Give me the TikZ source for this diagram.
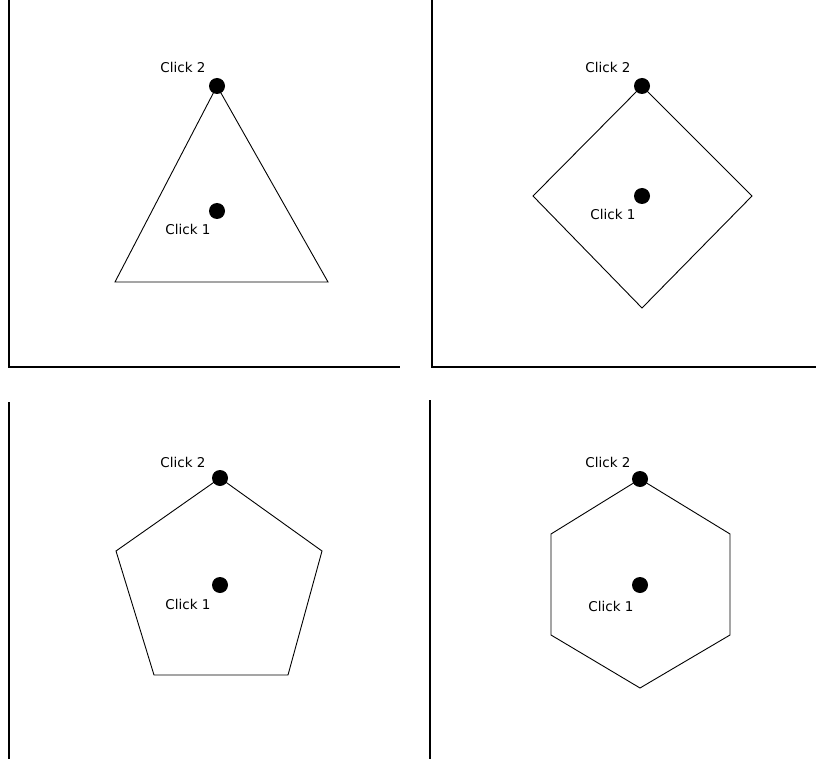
\documentclass[tikz,border=0pt]{standalone}
\usepackage{fontspec}
\setmainfont{DejaVu Sans}
\begin{document}
\begin{tikzpicture}[x=1pt,y=-1pt,
  axis/.style={line width=2.6pt},
  polyline/.style={line width=0.9pt},
  dot/.style={circle,fill=black,inner sep=0pt,minimum size=16pt},
  lbl/.style={font=\fontsize{13.5}{15}\selectfont,inner sep=0pt}]
\useasboundingbox (0,0) rectangle (816,759);
% panel 1
\coordinate (a1) at (9,0); \coordinate (a2) at (9,367); \coordinate (a3) at (400,367);
\draw[axis] (a1) -- (a2) -- (a3);
\coordinate (t1) at (217,86); \coordinate (t2) at (328,282); \coordinate (t3) at (115,282);
\draw[polyline] (t1) -- (t2) -- (t3) -- cycle;
\node[dot] (c2a) at (t1) {};
\node[dot] (c1a) at (217,211) {};
\node[lbl] (l2a) at (183,67) {Click 2};
\node[lbl] (l1a) at (188,229) {Click 1};
% panel 2
\coordinate (b1) at (432,0); \coordinate (b2) at (432,367); \coordinate (b3) at (816,367);
\draw[axis] (b1) -- (b2) -- (b3);
\coordinate (d1) at (642,86); \coordinate (d2) at (752,196); \coordinate (d3) at (642,308); \coordinate (d4) at (533,196);
\draw[polyline] (d1) -- (d2) -- (d3) -- (d4) -- cycle;
\node[dot] (c2b) at (d1) {};
\node[dot] (c1b) at (642,196) {};
\node[lbl] (l2b) at (608,67) {Click 2};
\node[lbl] (l1b) at (613,214) {Click 1};
% panel 3
\coordinate (e1) at (9,402); \coordinate (e2) at (9,759);
\draw[axis] (e1) -- (e2);
\coordinate (p1) at (220,478); \coordinate (p2) at (322,551); \coordinate (p3) at (288,675); \coordinate (p4) at (154,675); \coordinate (p5) at (116,551);
\draw[polyline] (p1) -- (p2) -- (p3) -- (p4) -- (p5) -- cycle;
\node[dot] (c2c) at (p1) {};
\node[dot] (c1c) at (220,585) {};
\node[lbl] (l2c) at (183,462) {Click 2};
\node[lbl] (l1c) at (188,604) {Click 1};
% panel 4
\coordinate (f1) at (430,400); \coordinate (f2) at (430,759);
\draw[axis] (f1) -- (f2);
\coordinate (h1) at (640,479); \coordinate (h2) at (730,534); \coordinate (h3) at (730,635); \coordinate (h4) at (640,688); \coordinate (h5) at (551,635); \coordinate (h6) at (551,534);
\draw[polyline] (h1) -- (h2) -- (h3) -- (h4) -- (h5) -- (h6) -- cycle;
\node[dot] (c2d) at (h1) {};
\node[dot] (c1d) at (640,585) {};
\node[lbl] (l2d) at (608,462) {Click 2};
\node[lbl] (l1d) at (611,606) {Click 1};
\end{tikzpicture}
\end{document}
